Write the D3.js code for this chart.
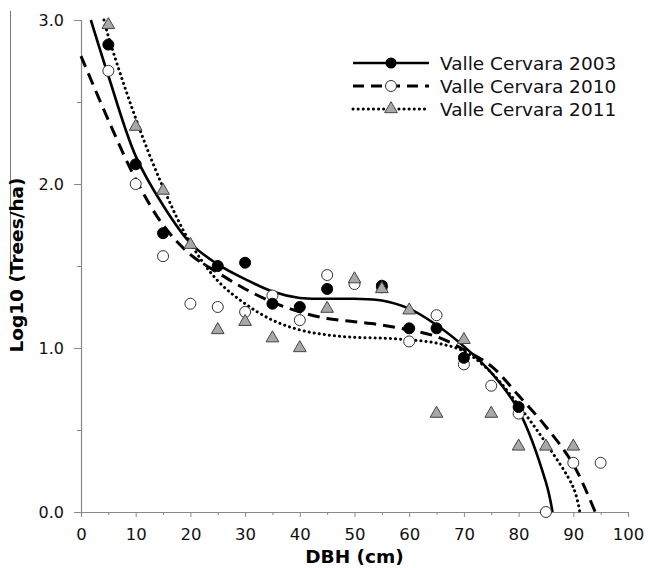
<!DOCTYPE html>
<html>
<head>
<meta charset="utf-8">
<script src="https://cdn.jsdelivr.net/npm/d3@7"></script>
<style>
  body { margin: 0; background: #fff; }
  text { font-family: "DejaVu Sans", sans-serif; }
</style>
</head>
<body>
<svg id="chart"></svg>
<script>
// observed points (DBH class, log10 trees/ha)
var obs2003 = [[5,2.85],[10,2.12],[15,1.70],[25,1.50],[30,1.52],[35,1.27],[40,1.25],[45,1.36],[55,1.38],[60,1.12],[65,1.12],[70,0.94],[80,0.64]];
var obs2010 = [[5,2.69],[10,2.00],[15,1.56],[20,1.27],[25,1.25],[30,1.22],[35,1.32],[40,1.17],[45,1.445],[50,1.39],[55,1.37],[60,1.04],[65,1.20],[70,0.90],[75,0.77],[80,0.60],[85,0.0],[90,0.30],[95,0.30]];
var obs2011 = [[5,2.97],[10,2.35],[15,1.96],[20,1.63],[25,1.11],[30,1.16],[35,1.06],[40,1.00],[45,1.24],[50,1.42],[55,1.36],[60,1.23],[65,0.60],[70,1.05],[75,0.60],[80,0.40],[85,0.40],[90,0.40]];

// fitted curves
var fit2003 = [[1.8,3.0],[5,2.66],[10,2.17],[15,1.87],[20,1.64],[25,1.51],[30,1.42],[35,1.345],[40,1.305],[45,1.30],[50,1.30],[55,1.29],[60,1.24],[65,1.14],[70,1.01],[75,0.85],[80,0.62],[85,0.18],[86.2,0]];
var fit2010 = [[0,2.78],[5,2.39],[10,2.03],[15,1.75],[20,1.57],[25,1.46],[30,1.36],[35,1.28],[40,1.22],[45,1.18],[50,1.16],[55,1.14],[60,1.11],[65,1.07],[70,0.99],[75,0.89],[80,0.71],[85,0.52],[90,0.29],[94,0]];
var fit2011 = [[4.2,3.0],[5,2.90],[10,2.40],[15,1.98],[20,1.64],[25,1.41],[30,1.27],[35,1.17],[40,1.11],[45,1.08],[50,1.065],[55,1.06],[60,1.05],[65,1.03],[70,0.98],[75,0.85],[80,0.65],[85,0.42],[90,0.15],[91.2,0]];

var seriesNames = ['Valle Cervara 2003', 'Valle Cervara 2010', 'Valle Cervara 2011'];
var xTicks = [0,10,20,30,40,50,60,70,80,90,100];
var yTicks = [0,1,2,3];

var W = 648, H = 568;
var margin = {top: 20, right: 20, bottom: 56, left: 81};

var svg = d3.select('#chart').attr('width', W).attr('height', H);

var x = d3.scaleLinear().domain([0, 100]).range([margin.left, 628]);
var y = d3.scaleLinear().domain([0, 3]).range([512, margin.top]);

var axisColor = '#888';

// stray vertical rule at far left of the original scan
svg.append('line')
    .attr('x1', 10.5).attr('x2', 10.5).attr('y1', 11).attr('y2', 278)
    .attr('stroke', '#777').attr('stroke-width', 1);

// x axis
var gx = svg.append('g').attr('transform', 'translate(0,512)');
gx.call(d3.axisBottom(x).tickValues(xTicks).tickSize(5).tickPadding(11).tickSizeOuter(0));
gx.append('g').call(d3.axisBottom(x).tickValues(d3.range(5, 100, 10)).tickSize(3).tickFormat(''));
gx.selectAll('path, line').attr('stroke', axisColor);
gx.selectAll('path').attr('stroke-width', 1.2);
gx.selectAll('text').attr('fill', '#111').style('font-size', '16.5px');
gx.select('g path').remove();

// y axis
var gy = svg.append('g').attr('transform', 'translate(' + margin.left + ',0)');
gy.call(d3.axisLeft(y).tickValues(yTicks).tickSize(7).tickPadding(10).tickSizeOuter(0).tickFormat(d3.format('.1f')));
gy.append('g').call(d3.axisLeft(y).tickValues([0.5, 1.5, 2.5]).tickSize(4).tickFormat(''));
gy.selectAll('path, line').attr('stroke', axisColor);
gy.selectAll('path').attr('stroke-width', 1.2);
gy.selectAll('text').attr('fill', '#111').style('font-size', '16px');
gy.select('g path').remove();

// axis titles
svg.append('text')
    .attr('x', x(50)).attr('y', 563)
    .attr('text-anchor', 'middle')
    .style('font-size', '18.5px').style('font-weight', 'bold')
    .text('DBH (cm)');
svg.append('text')
    .attr('transform', 'translate(23,265) rotate(-90)')
    .attr('text-anchor', 'middle')
    .style('font-size', '18.5px').style('font-weight', 'bold')
    .text('Log10 (Trees/ha)');

// curves
var line = d3.line()
    .x(function (d) { return x(d[0]); })
    .y(function (d) { return y(d[1]); })
    .curve(d3.curveCatmullRom);

var styles = [
    {dash: null, width: 2.6, cap: 'butt'},
    {dash: '12,7', width: 3, cap: 'butt'},
    {dash: '0.1,5', width: 3, cap: 'round'}
];

[fit2003, fit2010, fit2011].forEach(function (fit, i) {
    svg.append('path')
        .datum(fit)
        .attr('d', line)
        .attr('fill', 'none')
        .attr('stroke', '#000')
        .attr('stroke-width', styles[i].width)
        .attr('stroke-linecap', styles[i].cap)
        .attr('stroke-dasharray', styles[i].dash);
});

// markers
var tri = d3.symbol().type(d3.symbolTriangle).size(70);

function drawCircles(data, fill) {
    svg.append('g').selectAll('circle')
        .data(data)
        .enter()
        .append('circle')
        .attr('cx', function (d) { return x(d[0]); })
        .attr('cy', function (d) { return y(d[1]); })
        .attr('r', 5.5)
        .attr('fill', fill)
        .attr('stroke', fill === '#000' ? '#000' : '#333')
        .attr('stroke-width', 1);
}
drawCircles(obs2010, '#fff');
drawCircles(obs2003, '#000');

svg.append('g').selectAll('path')
    .data(obs2011)
    .enter()
    .append('path')
    .attr('d', tri)
    .attr('transform', function (d) { return 'translate(' + x(d[0]) + ',' + y(d[1]) + ')'; })
    .attr('fill', '#a8a8a8')
    .attr('stroke', '#444')
    .attr('stroke-width', 1);

// legend
var legend = svg.append('g');
var legY = [63, 86, 109];
seriesNames.forEach(function (name, i) {
    var g = legend.append('g').attr('transform', 'translate(0,' + legY[i] + ')');
    g.append('line')
        .attr('x1', 353).attr('x2', 429).attr('y1', 0).attr('y2', 0)
        .attr('stroke', '#000')
        .attr('stroke-width', styles[i].width)
        .attr('stroke-linecap', styles[i].cap)
        .attr('stroke-dasharray', i === 1 ? '11,7' : styles[i].dash);
    if (i === 0) {
        g.append('circle').attr('cx', 391).attr('cy', 0).attr('r', 5.5).attr('fill', '#000');
    } else if (i === 1) {
        g.append('circle').attr('cx', 391).attr('cy', 0).attr('r', 5.5).attr('fill', '#fff').attr('stroke', '#333');
    } else {
        g.append('path').attr('d', tri).attr('transform', 'translate(391,0)')
            .attr('fill', '#a8a8a8').attr('stroke', '#444');
    }
    g.append('text')
        .attr('x', 440).attr('y', 6.5)
        .style('font-size', '18.5px')
        .attr('fill', '#111')
        .text(name);
});
</script>
</body>
</html>
